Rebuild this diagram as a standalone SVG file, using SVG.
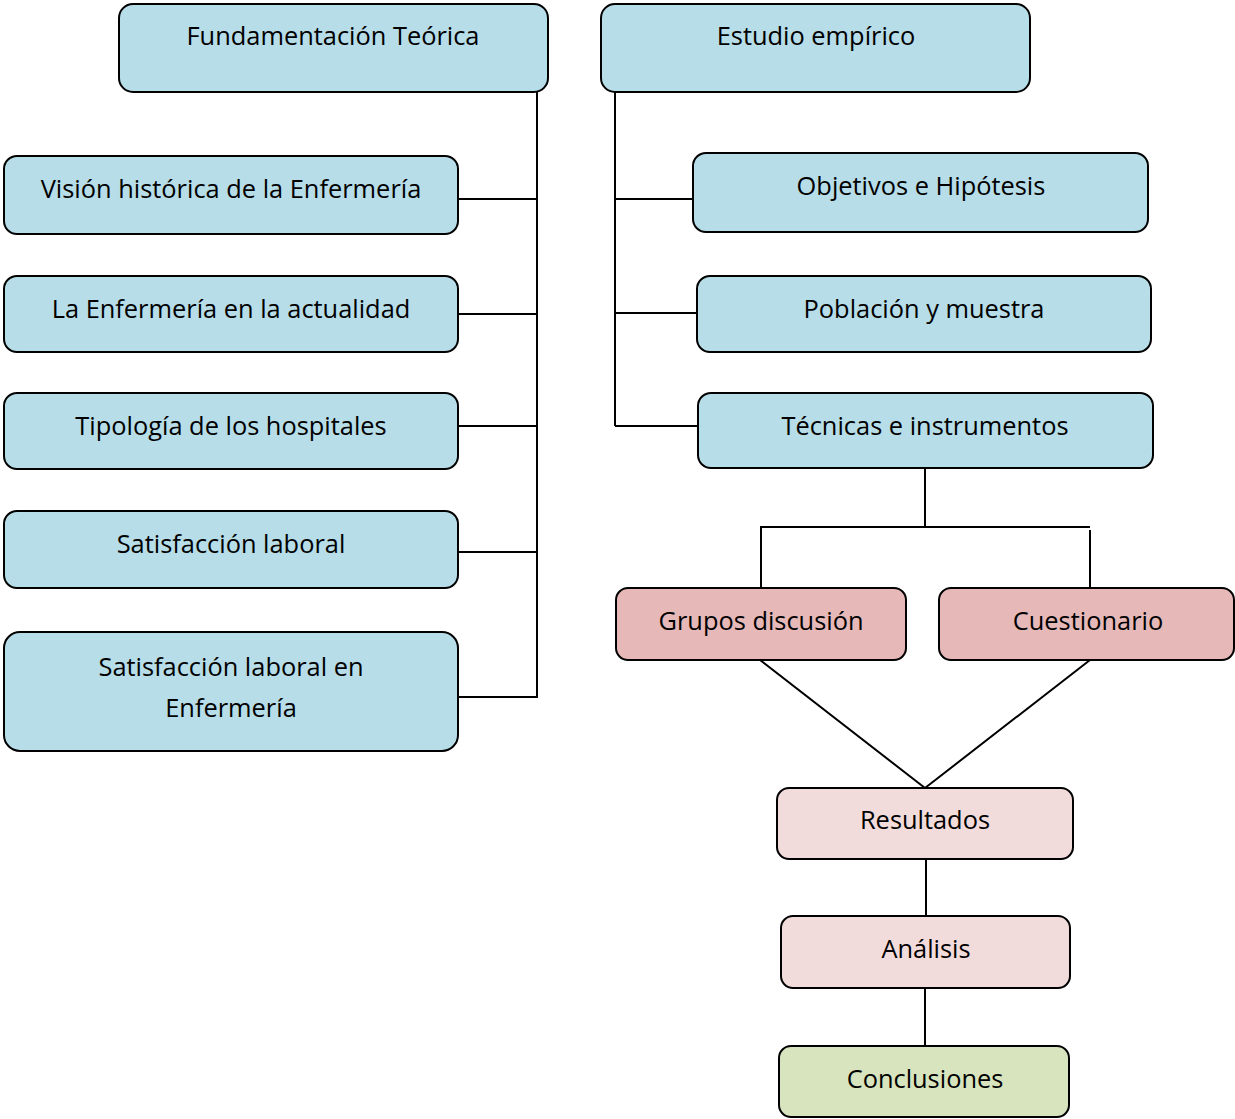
<svg xmlns="http://www.w3.org/2000/svg" width="1235" height="1119" viewBox="0 0 1235 1119">
<style>
.n{stroke:#000;stroke-width:2}
.b{fill:#b7dde8}.p{fill:#e6b9b8}.l{fill:#f2dcdb}.g{fill:#d7e4bd}
text{font-family:"Open Sans","Liberation Sans",sans-serif;font-size:25.4px;fill:#000;text-anchor:middle;dominant-baseline:central}
.c{stroke:#000;stroke-width:2;fill:none}
</style>
<rect width="1235" height="1119" fill="#fff"/>
<g id="connectors">
<path class="c" d="M537 92V698M458 199H537M458 314H537M458 426H537M458 552H537M458 697H537"/>
<path class="c" d="M615 92V426M615 199H693M615 313H697M615 426H698"/>
<path class="c" d="M925 468V527M760 527H1090M761 527V588M1090 530V588"/>
<path class="c" d="M760 660L925 788M1090 660L925 788"/>
<path class="c" d="M926 859V916M925 988V1046"/>
</g>
<g id="n1"><rect class="n b" x="119" y="4" width="429" height="88" rx="14"/><text x="333" y="35">Fundamentación Teórica</text></g>
<g id="n2"><rect class="n b" x="601" y="4" width="429" height="88" rx="14"/><text x="816" y="35">Estudio empírico</text></g>
<g id="n3"><rect class="n b" x="4" y="156" width="454" height="78" rx="13"/><text x="231" y="188">Visión histórica de la Enfermería</text></g>
<g id="n4"><rect class="n b" x="4" y="276" width="454" height="76" rx="13"/><text x="231" y="308">La Enfermería en la actualidad</text></g>
<g id="n5"><rect class="n b" x="4" y="393" width="454" height="76" rx="13"/><text x="231" y="425">Tipología de los hospitales</text></g>
<g id="n6"><rect class="n b" x="4" y="511" width="454" height="77" rx="13"/><text x="231" y="543">Satisfacción laboral</text></g>
<g id="n7"><rect class="n b" x="4" y="632" width="454" height="119" rx="16"/><text x="231" y="666">Satisfacción laboral en</text><text x="231" y="707">Enfermería</text></g>
<g id="n8"><rect class="n b" x="693" y="153" width="455" height="79" rx="13"/><text x="921" y="185">Objetivos e Hipótesis</text></g>
<g id="n9"><rect class="n b" x="697" y="276" width="454" height="76" rx="13"/><text x="924" y="308">Población y muestra</text></g>
<g id="n10"><rect class="n b" x="698" y="393" width="455" height="75" rx="13"/><text x="925" y="425">Técnicas e instrumentos</text></g>
<g id="n11"><rect class="n p" x="616" y="588" width="290" height="72" rx="12"/><text x="761" y="620">Grupos discusión</text></g>
<g id="n12"><rect class="n p" x="939" y="588" width="295" height="72" rx="12"/><text x="1088" y="620">Cuestionario</text></g>
<g id="n13"><rect class="n l" x="777" y="788" width="296" height="71" rx="12"/><text x="925" y="819">Resultados</text></g>
<g id="n14"><rect class="n l" x="781" y="916" width="289" height="72" rx="12"/><text x="926" y="948">Análisis</text></g>
<g id="n15"><rect class="n g" x="779" y="1046" width="290" height="71" rx="12"/><text x="925" y="1078">Conclusiones</text></g>
</svg>
